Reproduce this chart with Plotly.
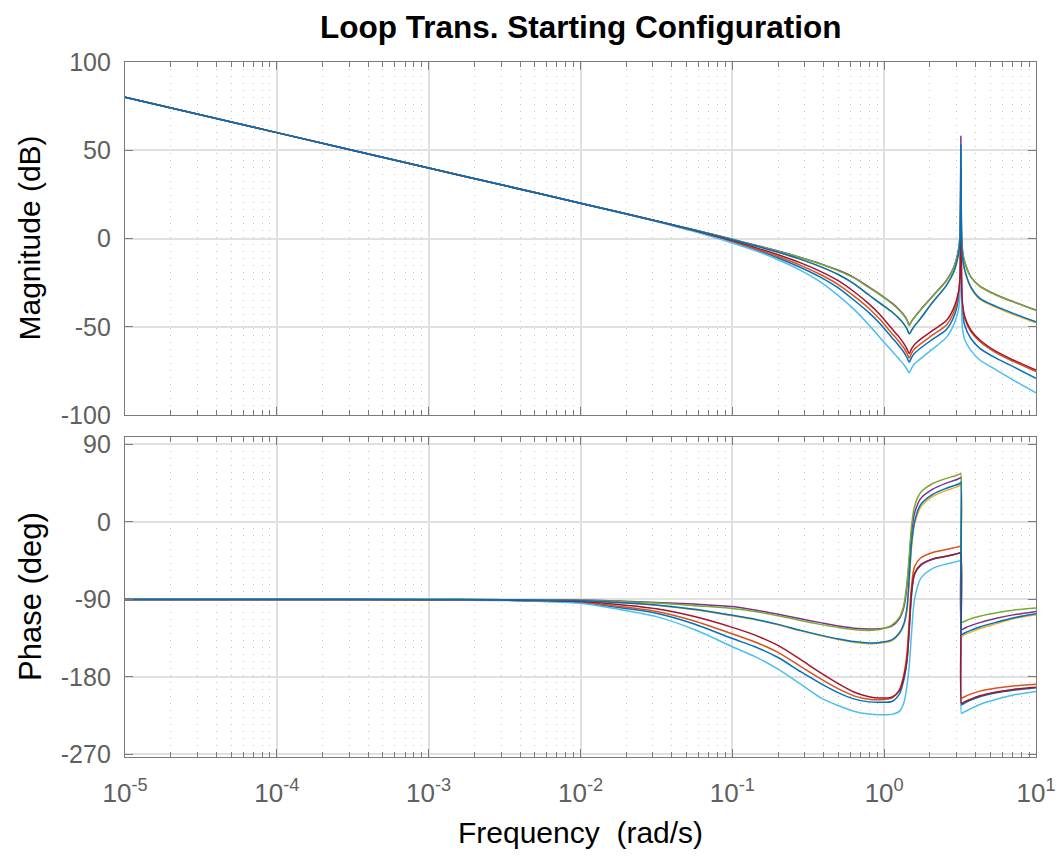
import plotly.graph_objects as go

# Frequency grid (rad/s)
freq = [1e-5, 1e-4, 1e-3, 0.00316, 0.01, 0.0178, 0.0316, 0.0562, 0.1, 0.141,
        0.2, 0.282, 0.38, 0.501, 0.631, 0.794, 0.933, 1.122, 1.259, 1.349,
        1.413, 1.462, 1.514, 1.585, 1.738, 2.089, 2.570, 2.884, 3.090, 3.162,
        3.199, 3.228, 3.273, 3.388, 3.715, 4.266, 5.495, 7.079, 10.0]

# Magnitude (dB)
mag_blue_a = [80, 60, 40, 30, 20, 15, 10, 4.8, -0.7, -4.1, -7.8, -11.8, -15.9, -20.5, -25.5, -32, -36.5, -41.5, -45.5, -48.5,
              -51.2, -54, -52, -49.5, -45.3, -36, -26.5, -18.5, -8.5, 0, 53, 3, -10, -17.5, -27.3, -33.9, -38.6, -42.4, -47.1]
mag_orange = [80, 60, 40, 30, 20, 15, 9.9, 4.5, -1.5, -5.6, -10.2, -15.2, -20.4, -26.2, -32.5, -39.6, -45.6, -53.6, -58.6, -62,
              -65, -67.7, -65, -62.5, -59.6, -54.6, -49, -41.5, -32, -21, 38, -21, -37, -45, -52.6, -58.3, -64.9, -69.6, -75.3]
mag_yellow = [80, 60, 40, 30, 20, 15, 10, 4.8, -0.7, -4.1, -7.8, -11.8, -15.9, -20.5, -25.5, -32, -36.5, -41.5, -45.5, -48.5,
              -51.2, -54, -52, -49.5, -45.3, -36, -26.5, -18.5, -8.5, 0, 50, 2, -10.5, -18, -27.8, -34.4, -39.1, -43, -47.8]
mag_purple = [80, 60, 40, 30, 20, 15, 10, 4.9, -0.4, -3.7, -7.1, -10.7, -14.2, -18, -22, -27.5, -31.5, -36.5, -40.3, -43.3,
              -46, -49, -46.8, -44.5, -40.3, -32.5, -23.8, -16, -6, 3, 58, 6, -6, -13, -21.6, -27, -32, -35.8, -40.5]
mag_green = [80, 60, 40, 30, 20, 15, 10, 4.9, -0.4, -3.8, -7.3, -10.9, -14.4, -18.3, -22.3, -27.8, -31.8, -36.8, -40.6, -43.6,
             -46.3, -49.3, -47, -44.7, -40.5, -32.7, -24, -16.2, -6.5, 2, 50, 5, -6.5, -13.2, -21.7, -27.1, -32.1, -35.9, -40.6]
mag_lightblue = [80, 60, 40, 30, 20, 14.9, 9.6, 4, -2.5, -6.8, -12, -18, -24.6, -32.5, -40, -49, -55.9, -63.5, -68.5, -71.5,
                 -74, -76.1, -73.5, -71, -68, -62.5, -56, -48.5, -40, -28, 35, -28, -50, -57, -63.2, -68.8, -74.5, -80.2, -87.4]
mag_darkred = [80, 60, 40, 30, 20, 15, 9.9, 4.6, -1.2, -5, -9.2, -13.8, -18.6, -24, -30, -37, -42.9, -51, -56, -59.5,
               -62.5, -65.2, -62.5, -60, -57, -52, -46.5, -39, -30, -20, 40, -20, -36, -44, -51.8, -57.5, -64.1, -68.8, -74.5]
mag_blue_b = [80, 60, 40, 30, 20, 14.9, 9.8, 4.4, -1.8, -6.1, -11, -16.4, -21.9, -28.1, -34.8, -42, -48, -56, -61, -64.4,
              -67.4, -70.1, -67.4, -65, -62, -57, -51.5, -44, -34, -22, 48, -22, -40, -49, -56.5, -62.2, -67.9, -72.6, -79.2]

# Phase (deg)
ph_blue_a = [-90, -90, -90.2, -90.5, -91.5, -93.5, -96.5, -101.5, -108.5, -113, -119, -126, -131.5, -136, -139, -140.7, -140, -137, -129, -118,
             -100, -65, -25, 0, 20, 32, 39, 42, 44, 45, 46, -131, -130.5, -129, -126, -122, -116.5, -111.5, -106.7]
ph_orange = [-90, -90, -90.3, -91, -93, -98, -104, -115, -130, -139.5, -151.5, -168, -182, -194, -202, -206, -206.5, -204.5, -195, -177,
             -153, -115, -75, -52, -42, -35.5, -32, -30, -28.8, -28.3, -27.8, -205, -204.5, -203, -200, -196.5, -193, -190.5, -188.5]
ph_yellow = [-90, -90, -90.2, -90.5, -91.5, -93.7, -96.8, -102, -109, -113.5, -119.5, -126.5, -132, -136.5, -139.7, -141.4, -141, -138, -130, -120,
             -103, -70, -30, -3, 17, 29.5, 36.5, 39.5, 41.5, 42.5, 43, -133, -132.5, -131, -128, -124, -118, -112.5, -107.9]
ph_purple = [-90, -90, -90.1, -90.3, -90.8, -92, -93.5, -95.5, -98.3, -102.3, -107.3, -112.5, -117, -121, -123.5, -124.5, -124, -121, -112.5, -99,
             -75, -45, -12, 10, 27, 38, 45, 48, 50, 51, 51.8, -125.5, -125, -123.5, -120.5, -117, -112, -108, -104]
ph_green = [-90, -90, -90.1, -90.4, -91, -92.5, -94.3, -97.3, -100.5, -104, -109, -114.5, -119, -122.7, -125, -126, -125, -120, -111, -96,
            -70, -40, -5, 18, 34, 44.5, 50.5, 53, 55, 55.8, 56.5, -117, -116.5, -115.5, -112.5, -109.5, -105.5, -102.5, -100]
ph_lightblue = [-90, -90, -90.5, -91.3, -94.5, -101.5, -110, -125, -145, -156.5, -171, -188.5, -204, -213.5, -219.8, -223.2, -224, -223.5, -220, -210,
                -190, -168, -130, -90, -66, -54, -49, -47, -45.5, -45, -44.5, -222.5, -222, -220.5, -217, -212, -206, -201, -196.8]
ph_darkred = [-90, -90, -90.3, -90.8, -92.5, -96, -101, -110, -122.5, -131.5, -143.5, -160, -175, -188, -197.5, -203, -204.5, -203.5, -196, -180,
              -160, -123, -82, -60, -50, -43, -40, -38, -36.5, -36, -35.5, -211, -210.5, -209, -206, -202, -197.5, -194.5, -192]
ph_blue_b = [-90, -90, -90.3, -91, -93.5, -99.5, -106, -118.5, -135.5, -145, -157.5, -174, -187.5, -198.5, -205.5, -209, -209.5, -208.5, -200, -183,
             -162, -127, -85, -61, -50.5, -43.5, -40, -38, -36.5, -36, -35.5, -212.5, -212, -210.5, -207, -203, -198.5, -195.5, -192.5]

# drawing order (later traces on top)
series = [
    ("#0072BD", mag_blue_b, ph_blue_b),
    ("#D95319", mag_orange, ph_orange),
    ("#EDB120", mag_yellow, ph_yellow),
    ("#7E2F8E", mag_purple, ph_purple),
    ("#77AC30", mag_green, ph_green),
    ("#4DBEEE", mag_lightblue, ph_lightblue),
    ("#A2142F", mag_darkred, ph_darkred),
    ("#0072BD", mag_blue_a, ph_blue_a),
]

x_ticks = [1e-5, 1e-4, 1e-3, 1e-2, 1e-1, 1e0, 1e1]
x_ticktext = ["10<sup>-5</sup>", "10<sup>-4</sup>", "10<sup>-3</sup>", "10<sup>-2</sup>",
              "10<sup>-1</sup>", "10<sup>0</sup>", "10<sup>1</sup>"]
mag_ticks = [-100, -50, 0, 50, 100]
mag_ticktext = ["-100", "-50", "0", "50", "100"]
ph_ticks = [-270, -180, -90, 0, 90]
ph_ticktext = ["-270", "-180", "-90", "0", "90"]

fig = go.Figure()
for color, m, p in series:
    fig.add_trace(go.Scatter(x=freq, y=m, mode="lines",
                             line=dict(color=color, width=1.5, shape="spline", smoothing=0.8),
                             xaxis="x", yaxis="y", showlegend=False, hoverinfo="skip"))
    fig.add_trace(go.Scatter(x=freq, y=p, mode="lines",
                             line=dict(color=color, width=1.5, shape="spline", smoothing=0.8),
                             xaxis="x2", yaxis="y2", showlegend=False, hoverinfo="skip"))

FONT = "Liberation Sans, Arial, sans-serif"
TICKCOL = "#606060"
LINECOL = "#7a7a7a"
GRIDCOL = "#e0e0e0"

common_x = dict(type="log", range=[-5, 1], showline=True, linecolor=LINECOL, linewidth=1.3,
                mirror="ticks", ticks="inside", ticklen=8, tickcolor=LINECOL, automargin=False,
                showgrid=True, gridcolor=GRIDCOL, gridwidth=1.5, zeroline=False,
                tickvals=x_ticks, ticktext=x_ticktext,
                minor=dict(dtick="D1", ticks="inside", ticklen=5, tickcolor=LINECOL,
                           showgrid=True, gridcolor="#c4c4c4", griddash="1px,6px", gridwidth=1))
common_y = dict(showline=True, linecolor=LINECOL, linewidth=1.3, mirror="ticks", ticks="inside",
                ticklen=8, tickcolor=LINECOL, showgrid=True, gridcolor=GRIDCOL, gridwidth=1.5,
                zeroline=False, ticklabelstandoff=8, automargin=False,
                tickfont=dict(size=25, color=TICKCOL, family=FONT))

fig.update_layout(
    width=1062, height=856,
    margin=dict(l=125, r=26, t=62, b=99),
    paper_bgcolor="white", plot_bgcolor="white",
    font=dict(family=FONT, color="black"),
    xaxis=dict(common_x, anchor="y", showticklabels=False),
    yaxis=dict(common_y, domain=[0.492, 1.0], range=[-100, 100], tickvals=mag_ticks, ticktext=mag_ticktext),
    xaxis2=dict(common_x, anchor="y2", matches="x", ticklabelstandoff=13,
                tickfont=dict(size=26, color=TICKCOL, family=FONT)),
    yaxis2=dict(common_y, domain=[0.0, 0.4604], range=[-273, 98.5], tickvals=ph_ticks, ticktext=ph_ticktext),
    annotations=[
        dict(text="<b>Loop Trans. Starting Configuration</b>", x=0.5, y=1.0, xref="paper", yref="paper",
             xanchor="center", yanchor="middle", yshift=35, showarrow=False, font=dict(size=31.5, color="black")),
        dict(text="Magnitude (dB)", x=0, y=0.746, xref="paper", yref="paper", xanchor="center", yanchor="middle",
             xshift=-95, textangle=-90, showarrow=False, font=dict(size=30, color="black")),
        dict(text="Phase (deg)", x=0, y=0.2302, xref="paper", yref="paper", xanchor="center", yanchor="middle",
             xshift=-95, textangle=-90, showarrow=False, font=dict(size=31, color="black")),
        dict(text="Frequency\u00a0\u00a0(rad/s)", x=0.5, y=0, xref="paper", yref="paper", xanchor="center",
             yanchor="middle", yshift=-75, showarrow=False, font=dict(size=30, color="black")),
    ],
)

fig.write_html("out.html")
